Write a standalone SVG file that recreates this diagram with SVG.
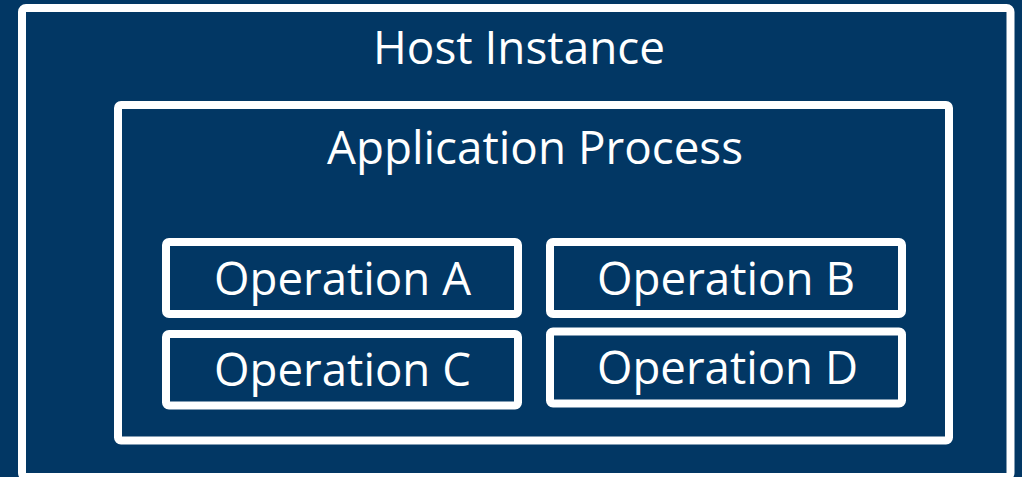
<svg xmlns="http://www.w3.org/2000/svg" width="1022" height="477" viewBox="0 0 1022 477">
  <style>
    .frame { fill: none; stroke: #ffffff; stroke-width: 8; }
    .label { fill: #ffffff; font-family: "Open Sans", "Liberation Sans", sans-serif; font-size: 45px; text-anchor: middle; }
  </style>
  <rect x="0" y="0" width="1022" height="477" fill="#023764"/>

  <g id="host-instance">
    <rect class="frame" x="22" y="8" width="988.5" height="469" rx="4"/>
    <text class="label" x="519" y="63.5" textLength="292" lengthAdjust="spacingAndGlyphs">Host Instance</text>
  </g>

  <g id="application-process">
    <rect class="frame" x="118" y="105" width="831" height="335.5" rx="3"/>
    <text class="label" x="535" y="163.5" textLength="416" lengthAdjust="spacingAndGlyphs">Application Process</text>
  </g>

  <g id="operation-a">
    <rect class="frame" x="166" y="242" width="352" height="72" rx="3"/>
    <text class="label" x="342.5" y="294.5" textLength="257" lengthAdjust="spacingAndGlyphs">Operation A</text>
  </g>

  <g id="operation-b">
    <rect class="frame" x="550" y="242" width="352" height="72" rx="3"/>
    <text class="label" x="726" y="294.5" textLength="258" lengthAdjust="spacingAndGlyphs">Operation B</text>
  </g>

  <g id="operation-c">
    <rect class="frame" x="166" y="334" width="352" height="71.5" rx="3"/>
    <text class="label" x="342.5" y="386" textLength="257" lengthAdjust="spacingAndGlyphs">Operation C</text>
  </g>

  <g id="operation-d">
    <rect class="frame" x="550" y="331.5" width="352" height="72" rx="3"/>
    <text class="label" x="727.5" y="383.5" textLength="261" lengthAdjust="spacingAndGlyphs">Operation D</text>
  </g>

  <g id="connectors"/>
</svg>
